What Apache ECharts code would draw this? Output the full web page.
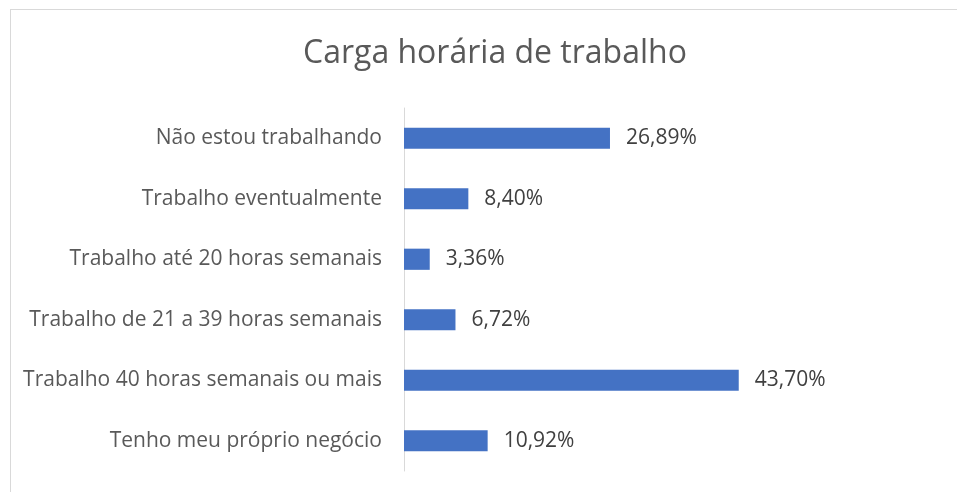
<!DOCTYPE html>
<html>
<head>
<meta charset="utf-8">
<script src="https://cdn.jsdelivr.net/npm/echarts@6/dist/echarts.min.js"></script>
<style>
  html, body { margin: 0; padding: 0; background: #fff; }
  #frame { position: absolute; left: 10px; top: 9px; width: 960px; height: 500px;
           border-left: 1px solid #d9d9d9; border-top: 1px solid #d9d9d9; }
  #chart { position: absolute; left: 0; top: 0; width: 957px; height: 492px; }
</style>
</head>
<body>
<div id="frame"></div>
<div id="chart"></div>
<script>
  var categories = [
    'Não estou trabalhando',
    'Trabalho eventualmente',
    'Trabalho até 20 horas semanais',
    'Trabalho de 21 a 39 horas semanais',
    'Trabalho 40 horas semanais ou mais',
    'Tenho meu próprio negócio'
  ];
  var values = [26.89, 8.40, 3.36, 6.72, 43.70, 10.92];

  var font = '"Open Sans", "Noto Sans", sans-serif';
  var myChart = echarts.init(document.getElementById('chart'));
  var option = {
    animation: false,
    title: {
      text: 'Carga horária de trabalho',
      left: 298,
      top: 33,
      textStyle: { fontFamily: font, fontSize: 32, fontWeight: 'normal', color: '#595959' }
    },
    grid: { left: 404, right: 170, top: 108, bottom: 21 },
    xAxis: {
      type: 'value',
      min: 0,
      max: 50,
      show: false,
      splitLine: { show: false }
    },
    yAxis: {
      type: 'category',
      inverse: true,
      data: categories,
      axisLine: { lineStyle: { color: '#d9d9d9', width: 1 } },
      axisTick: { show: false },
      axisLabel: { margin: 22, fontFamily: font, fontSize: 21, color: '#595959' }
    },
    series: [
      {
        type: 'bar',
        data: values,
        barCategoryGap: '65%',
        itemStyle: { color: '#4472c4' },
        label: {
          show: true,
          position: 'right',
          distance: 16,
          fontFamily: font,
          fontSize: 21,
          color: '#404040',
          formatter: function (p) {
            return p.value.toFixed(2).replace('.', ',') + '%';
          }
        }
      }
    ]
  };
  myChart.setOption(option);
</script>
</body>
</html>
